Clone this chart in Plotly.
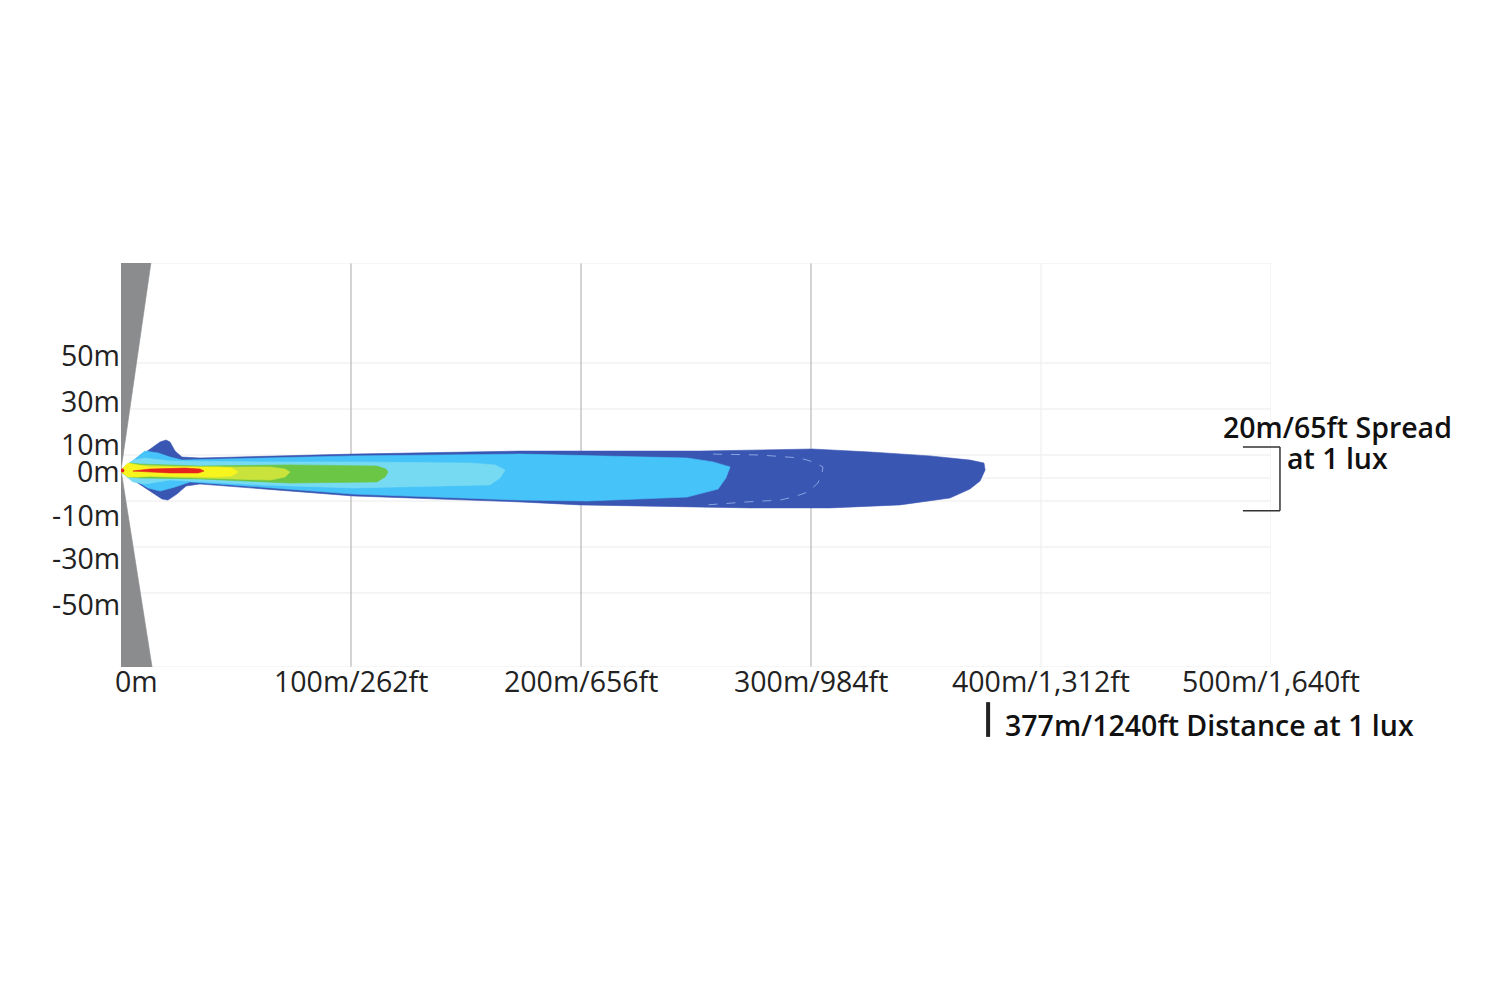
import plotly.graph_objects as go

# ---------------- data (metres) ----------------
# x: distance from lamp, y: lateral offset
x_tick_vals = [0, 100, 200, 300, 400, 500]
x_tick_text = ["0m", "100m/262ft", "200m/656ft", "300m/984ft", "400m/1,312ft", "500m/1,640ft"]
y_tick_vals = [50, 30, 10, 0, -10, -30, -50]
y_tick_text = ["50m", "30m", "10m", "0m", "-10m", "-30m", "-50m"]
grid_y = [50, 30, 10, 0, -10, -30, -50]
dark_grid_x = [100, 200, 300]
light_grid_x = [400, 500]

# lux contours (polygon vertices)
blue_dark_x = [0, 17.0, 19.6, 21.3, 23.5, 26.5, 34.3, 66.1, 100.9, 173.5, 251.7, 300.4, 325.7, 351.7, 369.1, 375.2,
               375.7, 373.5, 369.1, 360.4, 338.7, 308.3, 273.5, 199.6, 173.5, 100.9, 66.1, 34.3, 28.3, 24.3, 20.4, 17.8, 0]
blue_dark_y = [3.5, 15.7, 16.5, 15.7, 11.7, 9.1, 8.7, 9.6, 10.4, 11.7, 11.7, 12.6, 11.3, 9.6, 7.8, 6.5,
               3.5, -1.3, -4.8, -8.7, -11.7, -13.0, -13.0, -11.7, -10.4, -7.8, -5.2, -2.6, -3.5, -7.0, -9.6, -9.1, 2.6]

sky_x = [0, 10.4, 16.1, 21.3, 26.5, 66.1, 100.9, 173.5, 208.3, 246.1, 257.4, 264.8, 263.0, 259.6, 246.1, 202.6,
         173.5, 100.9, 66.1, 30.0, 23.5, 17.0, 11.7, 0]
sky_y = [3.5, 11.7, 10.9, 9.1, 7.8, 8.7, 9.6, 10.4, 9.6, 8.7, 7.0, 4.8, 0, -4.8, -8.3, -10.0,
         -9.6, -7.0, -4.3, -1.7, -3.9, -5.7, -4.3, 2.6]

cyan_x = [0, 5.2, 10.4, 21.3, 60.4, 100.9, 151.7, 162.6, 167.0, 164.8, 160.4, 100.9, 60.4, 21.3, 10.4, 5.2, 0]
cyan_y = [3.5, 7.8, 8.7, 7.4, 7.0, 7.0, 6.5, 5.7, 3.5, 0, -3.0, -4.3, -3.0, -0.9, -2.6, -1.7, 2.6]

green_x = [0, 3.9, 8.3, 34.3, 73.5, 111.3, 115.2, 116.1, 114.8, 111.3, 73.5, 34.3, 8.3, 3.9, 0]
green_y = [3.5, 6.5, 6.1, 5.2, 5.7, 5.2, 3.9, 2.6, 0.4, -1.7, -2.2, -0.4, 0, 0.4, 2.6]

lime_x = [0, 3.9, 34.3, 64.8, 71.3, 73.5, 71.3, 64.8, 34.3, 3.9, 0]
lime_y = [3.5, 5.7, 4.8, 4.8, 3.9, 2.6, 0.4, -0.9, 0, 0.9, 2.6]

yellow_x = [0, 3.0, 7.4, 12.6, 41.7, 48.3, 50.9, 48.3, 41.7, 12.6, 7.4, 3.0, 0]
yellow_y = [3.5, 6.5, 5.7, 4.8, 4.8, 4.3, 2.6, 0.9, 0.4, 0.9, 0.4, 0.4, 2.6]

red_x = [5.2, 12.6, 27.8, 34.3, 36.1, 33.5, 21.3, 12.6, 5.2]
red_y = [3.0, 3.9, 4.3, 3.9, 3.0, 2.2, 2.2, 2.6, 3.0]

contour_x = [257.4, 277.8, 295.2, 300.9, 305.2, 304.8, 303.0, 298.7, 292.2, 286.5, 272.2, 254.8]
contour_y = [10.4, 10.0, 8.7, 7.0, 4.8, 2.2, -2.2, -6.1, -8.3, -9.6, -10.4, -11.7]

# lamp housing wedges
wedge_top_x = [0, 13.0, 0]
wedge_top_y = [93.5, 93.5, 3.5]
wedge_bot_x = [0, 13.5, 0]
wedge_bot_y = [-82.2, -82.2, 3.5]

# callouts
distance_1lux = 377
distance_text = "377m/1240ft Distance at 1 lux"
spread_top, spread_bottom = 13.5, -14.3
spread_line1 = "20m/65ft Spread"
spread_line2 = "at 1 lux"

X_RANGE = [0, 500]
Y_RANGE = [-82.2, 93.5]

# ---------------- figure ----------------
fig = go.Figure()

def poly(x, y, color):
    fig.add_trace(go.Scatter(x=x, y=y, mode="lines", fill="toself", fillcolor=color,
                             line=dict(color=color, width=0.6), hoverinfo="skip", showlegend=False))

poly(wedge_top_x, wedge_top_y, "#8b8c8e")
poly(wedge_bot_x, wedge_bot_y, "#8b8c8e")
poly(blue_dark_x, blue_dark_y, "#3a56b3")
poly(sky_x, sky_y, "#46c3f8")
poly(cyan_x, cyan_y, "#76daf3")
poly(green_x, green_y, "#6cc646")
poly(lime_x, lime_y, "#cae33c")
poly(yellow_x, yellow_y, "#f7f41e")
poly(red_x, red_y, "#e6231d")
fig.add_trace(go.Scatter(x=[0.6], y=[3.3], mode="markers", marker=dict(color="#e6231d", size=4),
                         hoverinfo="skip", showlegend=False))
fig.add_trace(go.Scatter(x=contour_x, y=contour_y, mode="lines",
                         line=dict(color="rgba(150,175,230,0.85)", width=1, dash="dash"),
                         hoverinfo="skip", showlegend=False))

shapes = []
for gy in grid_y:
    shapes.append(dict(type="line", xref="x", yref="y", x0=X_RANGE[0], x1=X_RANGE[1], y0=gy, y1=gy,
                       line=dict(color="#ebebeb", width=1), layer="below"))
for gx in dark_grid_x:
    shapes.append(dict(type="line", xref="x", yref="y", x0=gx, x1=gx, y0=Y_RANGE[0], y1=Y_RANGE[1],
                       line=dict(color="#a9a9a9", width=1), layer="below"))
for gx in light_grid_x:
    shapes.append(dict(type="line", xref="x", yref="y", x0=gx, x1=gx, y0=Y_RANGE[0], y1=Y_RANGE[1],
                       line=dict(color="#ececec", width=1), layer="below"))
for gy in Y_RANGE:
    shapes.append(dict(type="line", xref="x", yref="y", x0=X_RANGE[0], x1=X_RANGE[1], y0=gy, y1=gy,
                       line=dict(color="#ececec", width=1), layer="below"))

def px(v):  # data x -> paper x
    return (v - X_RANGE[0]) / (X_RANGE[1] - X_RANGE[0])

def py(v):  # data y -> paper y
    return (v - Y_RANGE[0]) / (Y_RANGE[1] - Y_RANGE[0])

# spread bracket
bx_l, bx_r = px(487.8), px(503.9)
shapes += [
    dict(type="line", xref="paper", yref="paper", x0=bx_l, x1=bx_r, y0=py(spread_top), y1=py(spread_top),
         line=dict(color="#333333", width=1.5)),
    dict(type="line", xref="paper", yref="paper", x0=bx_r, x1=bx_r, y0=py(spread_top), y1=py(spread_bottom),
         line=dict(color="#333333", width=1.5)),
    dict(type="line", xref="paper", yref="paper", x0=bx_l, x1=bx_r, y0=py(spread_bottom), y1=py(spread_bottom),
         line=dict(color="#333333", width=1.5)),
    # distance marker
    dict(type="line", xref="paper", yref="paper", x0=px(distance_1lux), x1=px(distance_1lux),
         y0=-0.087, y1=-0.173, line=dict(color="#222222", width=4)),
]

tick_font = dict(family="Open Sans, Noto Sans, sans-serif", size=28.5, color="#222222", weight=400)
ann = []
for v, t in zip(x_tick_vals, x_tick_text):
    ann.append(dict(x=v, xref="x", y=0, yref="paper", text=t, showarrow=False,
                    xanchor="left" if v == 0 else "center", xshift=-8 if v == 0 else 0,
                    yanchor="middle", yshift=-14, font=tick_font))
y_shift = {50: 8, 30: 8, 10: 11, 0: 7, -10: -14, -30: -11, -50: -11}
for v, t in zip(y_tick_vals, y_tick_text):
    ann.append(dict(x=0, xref="paper", y=v, yref="y", text=t, showarrow=False,
                    xanchor="right", xshift=1, yanchor="middle", yshift=y_shift[v], font=tick_font))

call_font = dict(family="Open Sans, Noto Sans, sans-serif", size=28.5, color="#111111", weight=600)
ann.append(dict(x=px(528.7), xref="paper", y=py(22.2), yref="paper", text=spread_line1, showarrow=False,
                xanchor="center", yanchor="middle", font=call_font))
ann.append(dict(x=px(528.7), xref="paper", y=py(8.7), yref="paper", text=spread_line2, showarrow=False,
                xanchor="center", yanchor="middle", font=call_font))
ann.append(dict(x=px(383.5), xref="paper", y=-0.143, yref="paper", text=distance_text, showarrow=False,
                xanchor="left", yanchor="middle", font=call_font))

# page body has an 8px default margin: shrink the figure to compensate
fig.update_layout(
    width=1492, height=992, autosize=False,
    margin=dict(l=113, r=229, t=255, b=333, pad=0),
    paper_bgcolor="white", plot_bgcolor="white",
    xaxis=dict(range=X_RANGE, showgrid=False, zeroline=False, showticklabels=False, showline=False, fixedrange=True),
    yaxis=dict(range=Y_RANGE, showgrid=False, zeroline=False, showticklabels=False, showline=False, fixedrange=True),
    shapes=shapes, annotations=ann, showlegend=False,
)

fig.write_html("out.html")
